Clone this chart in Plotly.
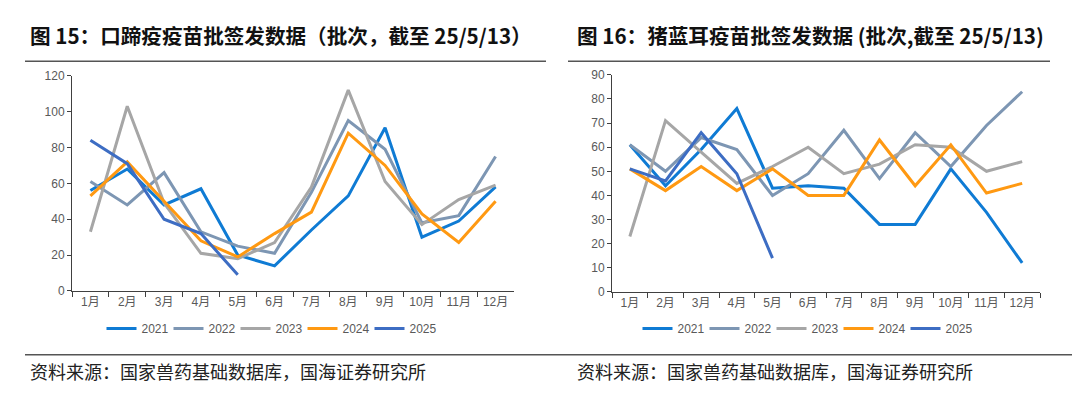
import plotly.graph_objects as go

months = ["1月", "2月", "3月", "4月", "5月", "6月", "7月", "8月", "9月", "10月", "11月", "12月"]
years = ["2021", "2022", "2023", "2024", "2025"]
colors = ["#0f7bd4", "#7d96b3", "#a6a6a6", "#ff9912", "#3d6dc3"]

# 口蹄疫疫苗批签发数据
fmd_2021 = [56, 68, 48, 57, 20, 14, 34, 53, 91, 30, 39, 58]
fmd_2022 = [61, 48, 66, 33, 25, 21, 55, 95, 79, 38, 42, 75]
fmd_2023 = [33, 103, 49, 21, 18, 27, 58, 112, 61, 37, 51, 59]
fmd_2024 = [53, 72, 50, 28, 19, 32, 44, 88, 70, 43, 27, 50]
fmd_2025 = [84, 71, 40, 32, 9]

# 猪蓝耳疫苗批签发数据
prrs_2021 = [61, 44, 59, 76, 43, 44, 43, 28, 28, 51, 33, 12]
prrs_2022 = [61, 50, 64, 59, 40, 49, 67, 47, 66, 52, 69, 83]
prrs_2023 = [23, 71, 58, 45, 52, 60, 49, 53, 61, 60, 50, 54]
prrs_2024 = [51, 42, 52, 42, 51, 40, 40, 63, 44, 61, 41, 45]
prrs_2025 = [51, 46, 66, 49, 14]

left_title = "图 15：口蹄疫疫苗批签发数据（批次，截至 25/5/13）"
right_title = "图 16：猪蓝耳疫苗批签发数据 (批次,截至 25/5/13)"
source_text = "资料来源：国家兽药基础数据库，国海证券研究所"

W, H = 1080, 399
def px(x):
    return x / W
def py(y):
    return 1 - y / H

fig = go.Figure()

left_series = [fmd_2021, fmd_2022, fmd_2023, fmd_2024, fmd_2025]
right_series = [prrs_2021, prrs_2022, prrs_2023, prrs_2024, prrs_2025]

for yr, vals, c in zip(years, left_series, colors):
    fig.add_trace(go.Scatter(x=months[:len(vals)], y=vals, mode="lines", name=yr,
                             line=dict(color=c, width=3), xaxis="x", yaxis="y",
                             legend="legend"))
for yr, vals, c in zip(years, right_series, colors):
    fig.add_trace(go.Scatter(x=months[:len(vals)], y=vals, mode="lines", name=yr,
                             line=dict(color=c, width=3), xaxis="x2", yaxis="y2",
                             legend="legend2"))

tickfont = dict(family="Arial, Liberation Sans, Noto Sans CJK SC", size=12, color="#595959")
axis_common = dict(showline=True, linecolor="#404040", linewidth=1, ticks="outside",
                   tickcolor="#404040", showgrid=False, zeroline=False, tickfont=tickfont)

legend_font = dict(family="Arial, Liberation Sans", size=12, color="#595959")

fig.update_layout(
    width=W, height=H,
    margin=dict(l=0, r=0, t=0, b=0),
    paper_bgcolor="white", plot_bgcolor="white",
    xaxis=dict(domain=[px(64), px(506)], type="category", categoryorder="array",
               categoryarray=months, range=[-0.5, 11.5], tickson="boundaries",
               ticklen=5, anchor="y", **axis_common),
    yaxis=dict(domain=[py(286), py(63)], range=[0, 120], dtick=20, ticklen=4,
               anchor="x", **axis_common),
    xaxis2=dict(domain=[px(604), px(1032)], type="category", categoryorder="array",
                categoryarray=months, range=[-0.5, 11.5], tickson="boundaries",
                ticklen=5, anchor="y2", **axis_common),
    yaxis2=dict(domain=[py(287), py(62)], range=[0, 90], dtick=10, ticklen=4,
                anchor="x2", **axis_common),
    legend=dict(orientation="h", x=px(261), y=py(325), xanchor="center", yanchor="middle",
                font=legend_font, itemwidth=30, entrywidth=22, entrywidthmode="pixels",
                bgcolor="rgba(0,0,0,0)"),
    legend2=dict(orientation="h", x=px(797), y=py(325), xanchor="center", yanchor="middle",
                 font=legend_font, itemwidth=30, entrywidth=22, entrywidthmode="pixels",
                 bgcolor="rgba(0,0,0,0)"),
    showlegend=True,
)

title_font = dict(family="Noto Sans CJK SC, Arial", size=20.6, color="#111111")
fig.add_annotation(text="<b>" + left_title + "</b>", x=px(20), y=py(21), xref="paper", yref="paper",
                   xanchor="left", yanchor="middle", showarrow=False, font=title_font)
fig.add_annotation(text="<b>" + right_title + "</b>", x=px(567), y=py(21), xref="paper", yref="paper",
                   xanchor="left", yanchor="middle", showarrow=False, font=title_font)

src_font = dict(family="Noto Sans CJK SC", size=18, color="#222222")
fig.add_annotation(text=source_text, x=px(20), y=py(369), xref="paper", yref="paper",
                   xanchor="left", yanchor="middle", showarrow=False, font=src_font)
fig.add_annotation(text=source_text, x=px(567), y=py(369), xref="paper", yref="paper",
                   xanchor="left", yanchor="middle", showarrow=False, font=src_font)

line_style = dict(color="#555555", width=1.5)
fig.add_shape(type="line", xref="paper", yref="paper", x0=px(17), x1=px(538), y0=py(48), y1=py(48), line=line_style)
fig.add_shape(type="line", xref="paper", yref="paper", x0=px(560), x1=px(1042), y0=py(48), y1=py(48), line=line_style)
fig.add_shape(type="line", xref="paper", yref="paper", x0=px(17), x1=px(1066), y0=py(352), y1=py(352), line=line_style)

fig.write_html("out.html")
